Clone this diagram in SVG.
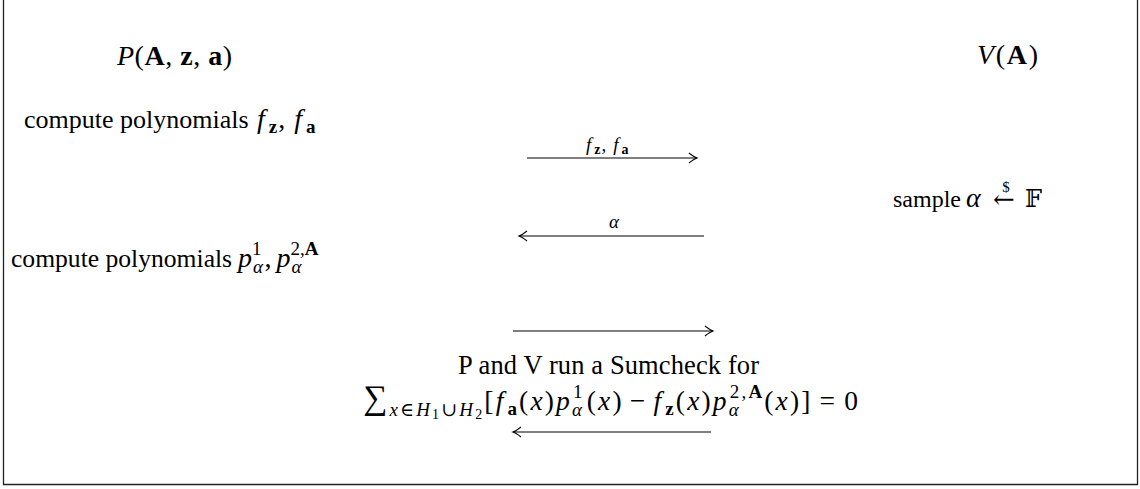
<svg xmlns="http://www.w3.org/2000/svg" width="1140" height="489" viewBox="0 0 1140 489">
<style>
text{font-family:"Liberation Serif","DejaVu Serif",serif;fill:#000;}
.t{font-size:26px;}
.m{font-size:28px;}
.i{font-style:italic;}
.b{font-weight:bold;}
.s{font-size:19px;}
.ss{font-size:14px;}
.lbl{font-size:19px;}
.bb{font-family:"DejaVu Serif","DejaVu Sans",serif;}
.conn line{stroke:#000;stroke-width:1.1;fill:none;}
</style>
<defs>
<marker id="ah" viewBox="-10 -6 12 12" refX="0" refY="0" markerWidth="12" markerHeight="12" markerUnits="userSpaceOnUse" orient="auto">
<path d="M-8,-5 Q-3,-1 0,0 Q-3,1 -8,5" fill="none" stroke="#000" stroke-width="1.1"/>
</marker>
</defs>
<rect width="1140" height="489" fill="#fff"/>
<path d="M3.5,0 V484.5 H1137.5 V0" fill="none" stroke="#222" stroke-width="1.3"/>

<g id="prover-title"><text class="m" x="117" y="65" textLength="115" lengthAdjust="spacing"><tspan class="i">P</tspan>(<tspan class="b">A</tspan>, <tspan class="b">z</tspan>, <tspan class="b">a</tspan>)</text></g>
<g id="verifier-title"><text class="m" x="977" y="64" textLength="61" lengthAdjust="spacing"><tspan class="i">V</tspan>(<tspan class="b">A</tspan>)</text></g>

<g id="step1"><text class="t" x="24" y="128">compute polynomials</text>
<text class="m" x="257" y="128"><tspan class="i">f</tspan><tspan class="s b" dx="4" dy="5">z</tspan><tspan dx="1" dy="-5">,</tspan><tspan class="i" dx="9">f</tspan><tspan class="s b" dx="4" dy="5">a</tspan></text></g>

<g id="step2"><text class="t" x="893" y="207" style="font-size:24px">sample</text>
<text class="m i" x="966" y="207">α</text>
<text x="1004" y="208" text-anchor="middle" style="font-family:'DejaVu Serif',serif;font-size:26px">←</text>
<text x="1006" y="192" text-anchor="middle" style="font-size:15px">$</text>
<text class="bb" x="1025" y="207" style="font-size:24px">𝔽</text></g>

<g id="step3"><text class="t" x="11" y="267" style="font-size:25.6px">compute polynomials</text>
<text class="m" x="238" y="267"><tspan class="i">p</tspan><tspan class="s i" dx="1" dy="6">α</tspan><tspan class="s" dx="-11" dy="-18">1</tspan><tspan dx="3" dy="12">,</tspan><tspan class="i" dx="5">p</tspan><tspan class="s i" dx="1" dy="6">α</tspan><tspan class="s" dx="-11" dy="-18">2,</tspan><tspan class="s b">A</tspan></text></g>

<g id="sumcheck"><text class="t" x="458" y="374" textLength="301" lengthAdjust="spacing" style="font-size:26.5px">P and V run a Sumcheck for</text>
<text class="m" x="363" y="410" textLength="495" lengthAdjust="spacing" style="font-size:27.5px"><tspan style="font-size:34px" dy="-1">∑</tspan><tspan class="s i" dy="7">x</tspan><tspan class="s">∈</tspan><tspan class="s i">H</tspan><tspan class="ss" dy="3">1</tspan><tspan class="s" dy="-3">∪</tspan><tspan class="s i">H</tspan><tspan class="ss" dy="3">2</tspan><tspan dy="-9">[</tspan><tspan class="i">f</tspan><tspan class="s b" dx="2" dy="5">a</tspan><tspan dy="-5">(</tspan><tspan class="i">x</tspan>)<tspan class="i">p</tspan><tspan class="s i" dy="6">α</tspan><tspan class="s" dx="-11" dy="-18">1</tspan><tspan dx="2" dy="12">(</tspan><tspan class="i">x</tspan>)<tspan dx="6">−</tspan><tspan class="i" dx="6">f</tspan><tspan class="s b" dx="2" dy="5">z</tspan><tspan dy="-5">(</tspan><tspan class="i">x</tspan>)<tspan class="i">p</tspan><tspan class="s i" dy="6">α</tspan><tspan class="s" dx="-11" dy="-18">2,</tspan><tspan class="s b">A</tspan><tspan dy="12">(</tspan><tspan class="i">x</tspan>)]<tspan dx="7">=</tspan><tspan dx="7">0</tspan></text></g>

<g class="conn" id="connectors">
<line x1="527" y1="158" x2="697" y2="158" marker-end="url(#ah)"/>
<line x1="704" y1="236" x2="519" y2="236" marker-end="url(#ah)"/>
<line x1="513" y1="331" x2="713" y2="331" marker-end="url(#ah)"/>
<line x1="711" y1="432" x2="513" y2="432" marker-end="url(#ah)"/>
<text class="lbl" x="586" y="151"><tspan class="i">f</tspan><tspan class="b" style="font-size:14px" dx="3" dy="3">z</tspan><tspan dx="1" dy="-3">,</tspan><tspan class="i" dx="7">f</tspan><tspan class="b" style="font-size:14px" dx="3" dy="3">a</tspan></text>
<text class="lbl i" x="614" y="228" text-anchor="middle">α</text>
</g>
</svg>
